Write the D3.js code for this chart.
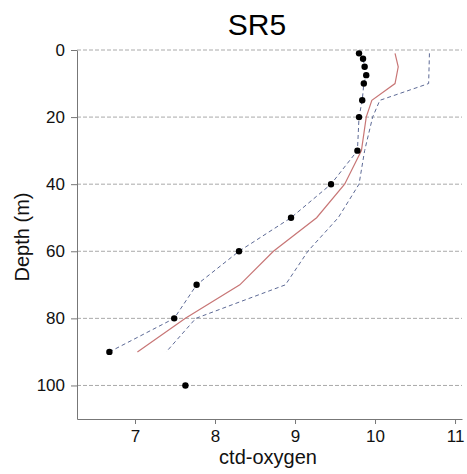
<!DOCTYPE html>
<html>
<head>
<meta charset="utf-8">
<script src="https://cdn.jsdelivr.net/npm/d3@7"></script>
<style>
  body { margin: 0; background: #fff; }
  svg { display: block; font-family: "Liberation Sans", Arial, sans-serif; }
</style>
</head>
<body>
<div id="chart"></div>
<script>
// observed profile (black dots)
const obsDepth = [1, 2.6, 5, 7.5, 10, 15, 20, 30, 40, 50, 60, 70, 80, 90, 100];
const obsValue = [9.80, 9.85, 9.87, 9.89, 9.86, 9.84, 9.80, 9.78, 9.45, 8.95, 8.30, 7.77, 7.49, 6.68, 7.63];

// mean profile (red line)
const meanDepth = [1, 5, 10, 15, 20, 30, 40, 50, 60, 70, 80, 90];
const meanValue = [10.25, 10.29, 10.25, 9.96, 9.89, 9.83, 9.62, 9.27, 8.73, 8.31, 7.63, 7.03];

// upper envelope (right dashed line)
const upperDepth = [1, 10, 15, 20, 30, 40, 50, 60, 70, 80, 90];
const upperValue = [10.68, 10.67, 10.06, 9.97, 9.87, 9.80, 9.54, 9.16, 8.88, 7.76, 7.39];

// lower envelope (dashed line through the dots, down to 90 m)
const lowerDepth = obsDepth.slice(0, 14);
const lowerValue = obsValue.slice(0, 14);

const yTicks = [0, 20, 40, 60, 80, 100];
const xTicks = [7, 8, 9, 10, 11];

const width = 467, height = 474;
const margin = { top: 50, right: 5, bottom: 55, left: 77 };

const svg = d3.select("#chart").append("svg")
    .attr("width", width)
    .attr("height", height);

const x = d3.scaleLinear()
    .domain([6.275, 11.087])
    .range([margin.left, width - margin.right]);

const y = d3.scaleLinear()
    .domain([0, 110])
    .range([margin.top, height - margin.bottom]);

// grid
svg.append("g")
    .selectAll("line")
    .data(yTicks)
    .join("line")
    .attr("x1", margin.left)
    .attr("x2", width - margin.right)
    .attr("y1", d => y(d))
    .attr("y2", d => y(d))
    .attr("stroke", "#aaa")
    .attr("stroke-width", 1)
    .attr("stroke-dasharray", "4,2");

// axes
const yAxis = svg.append("g")
    .attr("transform", `translate(${margin.left},0)`)
    .call(d3.axisLeft(y).tickValues(yTicks).tickSize(6).tickPadding(6).tickSizeOuter(0));
const xAxis = svg.append("g")
    .attr("transform", `translate(0,${height - margin.bottom})`)
    .call(d3.axisBottom(x).tickValues(xTicks).tickFormat(d3.format("d"))
        .tickSize(5).tickPadding(6).tickSizeOuter(0));

[xAxis, yAxis].forEach(g => {
    g.select(".domain").attr("stroke", "#777");
    g.selectAll(".tick line").attr("stroke", "#777");
    g.selectAll(".tick text")
        .attr("fill", "#111")
        .style("font-size", "17px")
        .style("font-family", "Liberation Sans, Arial, sans-serif");
});

const line = d3.line()
    .x(d => x(d[1]))
    .y(d => y(d[0]));

const blue = "#5d6a96";

svg.append("path")
    .datum(d3.zip(lowerDepth, lowerValue))
    .attr("d", line)
    .attr("fill", "none")
    .attr("stroke", blue)
    .attr("stroke-width", 1)
    .attr("stroke-dasharray", "4,3");

svg.append("path")
    .datum(d3.zip(upperDepth, upperValue))
    .attr("d", line)
    .attr("fill", "none")
    .attr("stroke", blue)
    .attr("stroke-width", 1)
    .attr("stroke-dasharray", "4,3");

svg.append("path")
    .datum(d3.zip(meanDepth, meanValue))
    .attr("d", line)
    .attr("fill", "none")
    .attr("stroke", "#c87676")
    .attr("stroke-width", 1.2);

svg.append("g")
    .selectAll("circle")
    .data(d3.zip(obsDepth, obsValue))
    .join("circle")
    .attr("cx", d => x(d[1]))
    .attr("cy", d => y(d[0]))
    .attr("r", 3.2)
    .attr("fill", "#000");

// title and labels
svg.append("text")
    .attr("x", 257)
    .attr("y", 35)
    .attr("text-anchor", "middle")
    .style("font-size", "30px")
    .attr("fill", "#000")
    .text("SR5");

svg.append("text")
    .attr("x", 268)
    .attr("y", 464)
    .attr("text-anchor", "middle")
    .style("font-size", "20px")
    .attr("fill", "#111")
    .text("ctd-oxygen");

svg.append("text")
    .attr("transform", `translate(29,237) rotate(-90)`)
    .attr("text-anchor", "middle")
    .style("font-size", "20px")
    .attr("fill", "#111")
    .text("Depth (m)");
</script>
</body>
</html>
